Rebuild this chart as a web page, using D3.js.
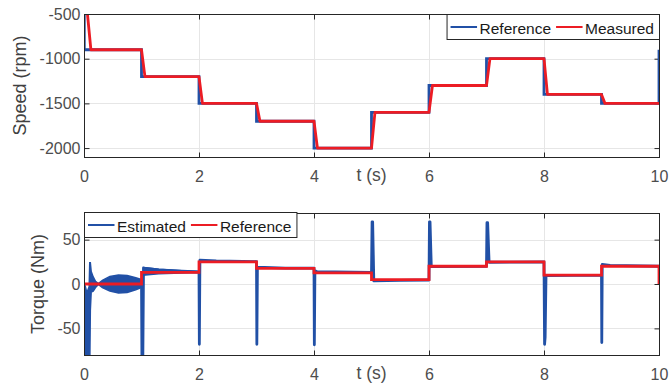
<!DOCTYPE html>
<html>
<head>
<meta charset="utf-8">
<script src="https://cdn.jsdelivr.net/npm/d3@7/dist/d3.min.js"></script>
<style>
  body { margin: 0; background: #fff; }
  svg { display: block; font-family: "Liberation Sans", Arial, sans-serif; }
</style>
</head>
<body>
<svg id="chart" width="671" height="389"></svg>
<script>
// ---- data ----
const xTicks = [0, 2, 4, 6, 8, 10];
const speedTicks = [-2000, -1500, -1000, -500];
const torqueTicks = [-50, 0, 50];

// speed reference (step after each time)
const speedRefT = [0, 0.005, 1, 2, 3, 4, 5, 6, 7, 8, 9, 10];
const speedRefV = [-500, -900, -1200, -1500, -1700, -2000, -1600, -1300, -1000, -1400, -1500, -900];

// measured speed
const speedMeasT = [0, 0.06, 0.12, 1.0, 1.06, 2.0, 2.06, 3.0, 3.06, 4.0, 4.06, 5.0, 5.06, 6.0, 6.06, 7.0, 7.06, 8.0, 8.06, 9.0, 9.06, 10];
const speedMeasV = [-480, -500, -900, -900, -1200, -1200, -1500, -1500, -1700, -1700, -2000, -2000, -1600, -1600, -1300, -1300, -1000, -1000, -1400, -1400, -1500, -1500];

// torque reference (step after each time)
const torqueRefT = [0, 1, 2, 3, 4, 5, 6, 7, 8, 9, 10];
const torqueRefV = [0, 13, 25, 17.5, 12.5, 5, 20, 25, 10, 20, 0];

// estimated torque: oscillation envelope 0..1 s
const oscT  = [0, 0.003, 0.02, 0.05, 0.09, 0.1, 0.11, 0.125, 0.16, 0.2, 0.25, 0.32, 0.45, 0.6, 0.75, 0.9, 1.0];
const oscHi = [0, 0, -2, -10, -3, 24, 24, 14, 8, 3, 0.5, 4, 8.5, 10, 9.5, 7, 5];
const oscLo = [0, -95, -95, -95, -95, -95, -30, -9, -8, -4, -0.5, -4, -8, -10, -9.5, -6.5, -4];
// settling band 1..2 s
const setT  = [1.035, 1.3, 1.7, 2.0];
const setHi = [18.5, 16.5, 15, 14];
const setLo = [10, 11.5, 12.5, 13];

// estimated torque line from 1 s on
const estT = [1.0, 1.008, 1.022, 1.035, 1.3, 1.7, 2.0,
  2.006, 2.016, 2.3, 3.0,
  3.006, 3.016, 3.5, 4.0,
  4.006, 4.016, 4.05, 5.0,
  5.01, 5.02, 5.04, 5.5, 6.0,
  6.008, 6.018, 6.04, 7.0,
  7.008, 7.02, 7.045, 8.0,
  8.01, 8.02, 8.035, 9.0,
  9.005, 9.013, 9.15, 10.0];
const estV = [4, -95, -95, 18, 16, 14.5, 13.5,
  -68, 27, 26, 25.3,
  -68, 19, 18, 17.8,
  -68.5, 15, 14, 13,
  70, 70, 3.5, 4, 4.5,
  70, 70, 19.5, 20,
  69, 69, 24.5, 25,
  -68, -60, 9.5, 10,
  -66, 22, 21, 20];

// ---- layout ----
const blue = "#2150a6", red = "#ec1c24";
const gridC = "#e6e6e6", boxC = "#262626", tickTextC = "#4d4d4d";
const left = 84, right = 659;
const svg = d3.select("#chart");

const x = d3.scaleLinear().domain([0, 10]).range([left, right]);
const ySpeed = d3.scaleLinear().domain([-2100, -500]).range([157, 14]);
const yTorque = d3.scaleLinear().domain([-80, 80]).range([355, 213]);

function drawAxes(y, yTicks, id) {
  const [bot, top] = y.range();
  const g = svg.append("g");
  // grid
  g.selectAll(".gx").data(xTicks).enter().append("line")
    .attr("x1", d => Math.round(x(d)) + 0.5).attr("x2", d => Math.round(x(d)) + 0.5)
    .attr("y1", top).attr("y2", bot).attr("stroke", gridC);
  g.selectAll(".gy").data(yTicks).enter().append("line")
    .attr("y1", d => Math.round(y(d)) + 0.5).attr("y2", d => Math.round(y(d)) + 0.5)
    .attr("x1", left).attr("x2", right).attr("stroke", gridC);

  const fmt = d => String(d);
  const ax = (axis, tx, ty) => {
    const a = g.append("g").attr("transform", `translate(${tx},${ty})`).call(axis);
    a.select(".domain").remove();
    a.selectAll("line").attr("stroke", boxC);
    a.selectAll("text").attr("fill", tickTextC).style("font-size", "16px")
      .style("font-family", '"Liberation Sans", Arial, sans-serif');
    return a;
  };
  ax(d3.axisBottom(x).tickValues(xTicks).tickFormat(fmt).tickSizeInner(-5).tickSizeOuter(0).tickPadding(13), 0, Math.round(bot) + 0.5);
  ax(d3.axisTop(x).tickValues(xTicks).tickSizeInner(-5).tickSizeOuter(0).tickFormat(""), 0, Math.round(top) + 0.5);
  ax(d3.axisLeft(y).tickValues(yTicks).tickFormat(fmt).tickSizeInner(-5).tickSizeOuter(0).tickPadding(4), left + 0.5, 0);
  ax(d3.axisRight(y).tickValues(yTicks).tickSizeInner(-5).tickSizeOuter(0).tickFormat(""), right + 0.5, 0);

  svg.append("clipPath").attr("id", id).append("rect")
    .attr("x", left).attr("y", top).attr("width", right - left).attr("height", bot - top);
}

function drawBox(y) {
  const [bot, top] = y.range();
  svg.append("rect").attr("x", left + 0.5).attr("y", Math.round(top) + 0.5)
    .attr("width", right - left).attr("height", Math.round(bot) - Math.round(top))
    .attr("fill", "none").attr("stroke", boxC);
}

function xLabel(y) {
  svg.append("text").attr("x", (left + right) / 2).attr("y", y.range()[0] + 24)
    .attr("text-anchor", "middle").attr("fill", tickTextC).style("font-size", "17.5px").text("t (s)");
}
function yLabel(y, cx, txt) {
  const cy = (y.range()[0] + y.range()[1]) / 2;
  svg.append("text").attr("transform", `translate(${cx},${cy}) rotate(-90)`)
    .attr("text-anchor", "middle").attr("dy", "0.35em").attr("fill", "#404040")
    .style("font-size", "18px").text(txt);
}

function legend(items, bx, by, alignRight) {
  const g = svg.append("g");
  const rect = g.append("rect").attr("fill", "#fff").attr("stroke", boxC);
  let cx = 3.5;
  items.forEach(it => {
    g.append("line").attr("x1", cx).attr("x2", cx + 26.5).attr("y1", 12.5).attr("y2", 12.5)
      .attr("stroke", it.color).attr("stroke-width", 2);
    const t = g.append("text").attr("x", cx + 29).attr("y", 19).attr("fill", "#1a1a1a")
      .style("font-size", "15.5px").text(it.label);
    cx += 29 + t.node().getComputedTextLength() + 5;
  });
  const w = cx + 0.5;
  rect.attr("x", 0).attr("y", 0).attr("width", w).attr("height", 25);
  const ox = alignRight ? bx - w : bx;
  g.attr("transform", `translate(${ox + 0.5},${by + 0.5})`);
}

// ---- top: speed ----
drawAxes(ySpeed, speedTicks, "clipS");
const stepS = d3.line().x(d => x(d[0])).y(d => ySpeed(d[1])).curve(d3.curveStepAfter);
const lineS = d3.line().x(d => x(d[0])).y(d => ySpeed(d[1]));
const gs = svg.append("g").attr("clip-path", "url(#clipS)");
gs.append("path").datum(d3.zip(speedRefT, speedRefV)).attr("d", stepS)
  .attr("fill", "none").attr("stroke", blue).attr("stroke-width", 2.8);
gs.append("path").datum(d3.zip(speedMeasT, speedMeasV)).attr("d", lineS)
  .attr("fill", "none").attr("stroke", red).attr("stroke-width", 2.8).attr("stroke-linejoin", "round");
drawBox(ySpeed);
xLabel(ySpeed);
yLabel(ySpeed, 20, "Speed (rpm)");
legend([{ label: "Reference", color: blue }, { label: "Measured", color: red }], right, 14, true);

// ---- bottom: torque ----
drawAxes(yTorque, torqueTicks, "clipT");
const gt = svg.append("g").attr("clip-path", "url(#clipT)");
const area = d3.area().x(d => x(d[0])).y0(d => yTorque(d[2])).y1(d => yTorque(d[1]));
[[oscT, oscHi, oscLo], [setT, setHi, setLo]].forEach(([t, hi, lo]) => {
  gt.append("path").datum(d3.zip(t, hi, lo)).attr("d", area)
    .attr("fill", blue).attr("stroke", blue).attr("stroke-width", 1.5);
});
const lineT = d3.line().x(d => x(d[0])).y(d => yTorque(d[1]));
gt.append("path").datum(d3.zip(estT, estV)).attr("d", lineT)
  .attr("fill", "none").attr("stroke", blue).attr("stroke-width", 2.8).attr("stroke-linejoin", "round");
const stepT = d3.line().x(d => x(d[0])).y(d => yTorque(d[1])).curve(d3.curveStepAfter);
gt.append("path").datum(d3.zip(torqueRefT, torqueRefV)).attr("d", stepT)
  .attr("fill", "none").attr("stroke", red).attr("stroke-width", 2.8);
drawBox(yTorque);
xLabel(yTorque);
yLabel(yTorque, 38, "Torque (Nm)");
legend([{ label: "Estimated", color: blue }, { label: "Reference", color: red }], left, 212, false);
</script>
</body>
</html>
